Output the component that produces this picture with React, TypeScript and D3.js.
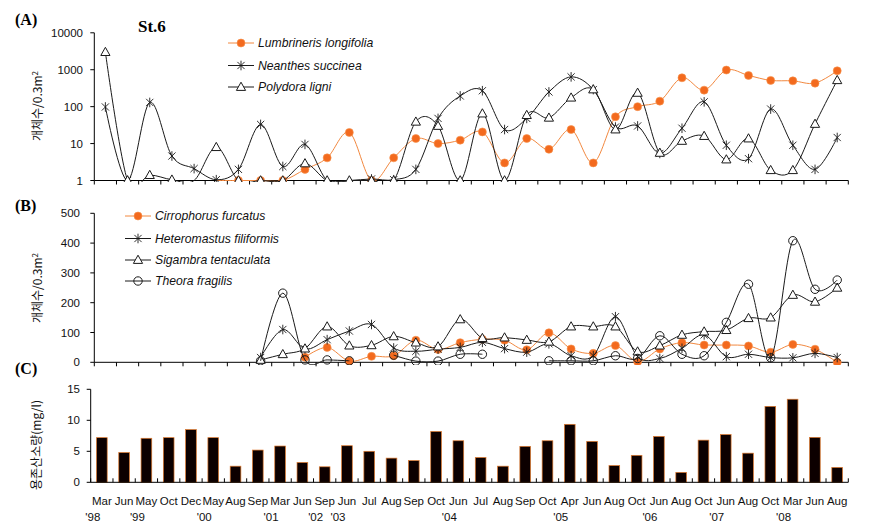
import React from "react";
import * as d3 from "d3";

// ---------- data ----------
const months = ["Mar","Jun","May","Oct","Dec","May","Aug","Sep","Mar","Jun","Sep","Jun","Jul","Aug","Sep","Oct","Jun","Jul","Aug","Sep","Oct","Apr","Jun","Aug","Oct","Jun","Aug","Oct","Jun","Aug","Oct","Mar","Jun","Aug"];
const years = ["'98","","'99","","","'00","","","'01","","'02","'03","","","","","'04","","","","","'05","","","","'06","","","'07","","","'08","",""];

// Panel A (log scale, 0 = plotted on the base line without marker, null = absent)
const lumbrineris = [null,null,null,null,null,0,1,1,1,2,4.1,20,1,4.1,13.7,10,12.4,20.7,3,13.7,7,24,3,53,100,141,605,280,980,700,514,500,433,935];
const neanthes = [98,1,130,4.6,2.1,1.05,2,33,2.4,9.5,0,0,1.1,1.05,2,48,195,270,24,48,250,640,290,28,30,5.4,26,135,9,3.9,86,9,2,14.6];
const polydora = [3000,1,1.4,1.05,0,8,1,1,1,2.9,1,1,1,1,39,30,1,65,1,59,50,175,292,24,236,5.6,11.8,16,3.7,13.7,1.9,1.9,34,520];
const aTicks = [1,10,100,1000,10000];

// Panel B
const cirrophorus = [null,null,null,null,null,null,null,null,null,17,50,4,20,22,74,43,66,77,74,42,99,45,30,56,2,45,66,58,58,55,34,60,44,0];
const heteromastus = [null,null,null,null,null,null,null,16,110,45,76,105,127,48,37,44,50,67,46,34,62,22,22,153,19,13,47,92,19,27,16,15,30,16];
const sigambra = [null,null,null,null,null,null,null,8,27,46,120,56,57,87,66,53,144,81,83,75,69,120,120,120,36,56,92,103,108,148,150,226,203,250];
const theora = [null,null,null,null,null,null,null,5,232,8,8,5,null,24,4,4,27,27,null,null,5,5,5,22,13,89,27,22,134,262,15,408,245,276];
const bTicks = [0,100,200,300,400,500];

// Panel C
const dissolvedO2 = [7.2,4.8,7.1,7.2,8.5,7.2,2.6,5.2,5.85,3.2,2.5,5.9,5.0,3.9,3.5,8.2,6.7,4.0,2.6,5.8,6.7,9.35,6.6,2.7,4.35,7.4,1.6,6.8,7.7,4.7,12.25,13.4,7.25,2.4];
const cTicks = [0,5,10,15];

const seriesA = [
  { name: "Lumbrineris longifolia", values: lumbrineris, marker: "dot" },
  { name: "Neanthes succinea", values: neanthes, marker: "star" },
  { name: "Polydora ligni", values: polydora, marker: "tri" },
];
const seriesB = [
  { name: "Cirrophorus furcatus", values: cirrophorus, marker: "dot" },
  { name: "Heteromastus filiformis", values: heteromastus, marker: "star" },
  { name: "Sigambra tentaculata", values: sigambra, marker: "tri" },
  { name: "Theora fragilis", values: theora, marker: "circ" },
];

// ---------- styles ----------
const ORANGE = "#f36a1e";
const ORANGE_LINE = "#f2883f";
const DARK = "#1a1a1a";
const SANS = "'Liberation Sans', Arial, sans-serif";
const SERIF = "'Liberation Serif', 'Times New Roman', serif";
const KR = "'Noto Sans CJK KR', sans-serif";

function Marker({ type, x, y }: { type: string; x: number; y: number }) {
  if (type === "dot") return <circle cx={x} cy={y} r={4} fill={ORANGE} stroke="#f7934f" strokeWidth={0.6} />;
  if (type === "circ") return <circle cx={x} cy={y} r={4.2} fill="none" stroke={DARK} strokeWidth={1} />;
  if (type === "tri")
    return <path d={`M${x},${y - 4.8}L${x + 4.6},${y + 3.4}L${x - 4.6},${y + 3.4}Z`} fill="#fff" stroke={DARK} strokeWidth={1} />;
  return (
    <path
      d={`M${x},${y - 4.8}V${y + 4.8}M${x - 3.6},${y - 3.6}L${x + 3.6},${y + 3.6}M${x + 3.6},${y - 3.6}L${x - 3.6},${y + 3.6}`}
      stroke={DARK}
      strokeWidth={0.9}
      fill="none"
    />
  );
}

export default function App() {
  const idx = d3.range(months.length);
  const xAB = d3.scaleBand<number>().domain(idx).range([94.3, 848.3]);
  const xC = d3.scaleBand<number>().domain(idx).range([90.7, 848.3]).paddingInner(0.52).paddingOuter(0.26);
  const cx = (i: number) => (xAB(i) as number) + xAB.bandwidth() / 2;
  const cxC = (i: number) => (xC(i) as number) + xC.bandwidth() / 2;

  const yA = d3.scaleLog().domain([1, 10000]).range([180.5, 32.8]);
  const yB = d3.scaleLinear().domain([0, 500]).range([362.3, 213.3]);
  const yC = d3.scaleLinear().domain([0, 15]).range([482.3, 389.3]);

  const curve = d3.curveCardinal.tension(0);
  const lineA = d3
    .line<[number, number | null]>()
    .defined((d) => d[1] != null)
    .x((d) => cx(d[0]))
    .y((d) => yA(Math.max(d[1] as number, 1)))
    .curve(curve);
  const lineB = d3
    .line<[number, number | null]>()
    .defined((d) => d[1] != null)
    .x((d) => cx(d[0]))
    .y((d) => yB(d[1] as number))
    .curve(curve);

  const boundariesAB = d3.range(months.length + 1).map((k) => 94.3 + k * xAB.step());
  const boundariesC = d3.range(months.length + 1).map((k) => 90.7 + k * xC.step());

  const xAxis = (y: number, xs: number[], dir: number, x0: number, x1: number) => (
    <g>
      <line x1={x0} x2={x1} y1={y} y2={y} stroke="#000" strokeWidth={1} />
      {xs.map((x, k) => (
        <line key={k} x1={x} x2={x} y1={y} y2={y + dir * 4} stroke="#000" strokeWidth={1} />
      ))}
    </g>
  );

  const yAxis = (x: number, scale: any, ticks: number[], labelX: number) => (
    <g>
      <line x1={x} x2={x} y1={scale(ticks[0])} y2={scale(ticks[ticks.length - 1])} stroke="#000" strokeWidth={1} />
      {ticks.map((t) => (
        <g key={t}>
          <line x1={x - 4} x2={x} y1={scale(t)} y2={scale(t)} stroke="#000" strokeWidth={1} />
          <text x={labelX} y={scale(t)} dy="0.36em" textAnchor="end" fontFamily={SANS} fontSize={11.5} fill="#111">
            {t}
          </text>
        </g>
      ))}
    </g>
  );

  const yAlog = (v: number) => yA(Math.max(v, 1));
  const drawSeries = (series: any[], line: any, ys: (v: number) => number, isLog: boolean) =>
    series.map((s) => {
      const pts: [number, number | null][] = s.values.map((v: number | null, i: number) => [i, v]);
      const isOrange = s.marker === "dot";
      return (
        <g key={s.name}>
          <path d={line(pts) || ""} fill="none" stroke={isOrange ? ORANGE_LINE : DARK} strokeWidth={1} />
          {pts
            .filter((p) => p[1] != null && !(isLog && (p[1] as number) <= 0))
            .map((p) => (
              <Marker key={p[0]} type={s.marker} x={cx(p[0])} y={ys(p[1] as number)} />
            ))}
        </g>
      );
    });

  const legend = (series: any[], x0: number, ys: number[]) =>
    series.map((s, k) => (
      <g key={s.name}>
        <line x1={x0} x2={x0 + 26} y1={ys[k]} y2={ys[k]} stroke={s.marker === "dot" ? ORANGE_LINE : DARK} strokeWidth={1} />
        <Marker type={s.marker} x={x0 + 13} y={ys[k]} />
        <text x={x0 + 30} y={ys[k]} dy="0.36em" fontFamily={SANS} fontStyle="italic" fontSize={12.2} fill="#111">
          {s.name}
        </text>
      </g>
    ));

  return (
    <svg width={869} height={530} style={{ position: "absolute", left: 0, top: 0, background: "#fff" }}>
      <defs>
        <clipPath id="clipA">
          <rect x={90} y={28} width={765} height={154} />
        </clipPath>
        <clipPath id="clipB">
          <rect x={90} y={205} width={765} height={160} />
        </clipPath>
      </defs>
      <rect width={869} height={530} fill="#fff" />

      {/* panel labels */}
      <text x={15} y={25} fontFamily={SERIF} fontWeight="bold" fontSize={16}>(A)</text>
      <text x={138} y={32} fontFamily={SERIF} fontWeight="bold" fontSize={17}>St.6</text>
      <text x={15} y={211} fontFamily={SERIF} fontWeight="bold" fontSize={16}>(B)</text>
      <text x={15} y={374} fontFamily={SERIF} fontWeight="bold" fontSize={16}>(C)</text>

      {/* y titles */}
      <text transform="translate(42,106) rotate(-90)" textAnchor="middle" fontFamily={KR} fontSize={12} fill="#111">
        개체수/0.3m<tspan dy="-4" fontSize={8}>2</tspan>
      </text>
      <text transform="translate(42,288) rotate(-90)" textAnchor="middle" fontFamily={KR} fontSize={12} fill="#111">
        개체수/0.3m<tspan dy="-4" fontSize={8}>2</tspan>
      </text>
      <text transform="translate(41,445) rotate(-90)" textAnchor="middle" fontFamily={KR} fontSize={12} fill="#111">
        용존산소량(mg/l)
      </text>

      {/* Panel A */}
      {yAxis(94.3, yA, aTicks, 83)}
      {xAxis(180.5, boundariesAB, 1, 94.3, 848.3)}
      <g clipPath="url(#clipA)">{drawSeries(seriesA, lineA, yAlog, true)}</g>
      {legend(seriesA, 228, [43, 65.5, 87])}

      {/* Panel B */}
      {yAxis(94.3, yB, bTicks, 80)}
      {xAxis(362.3, boundariesAB, 1, 94.3, 848.3)}
      <g clipPath="url(#clipB)">{drawSeries(seriesB, lineB, (v: number) => yB(v), false)}</g>
      {legend(seriesB, 125, [216, 238.5, 260, 281])}

      {/* Panel C */}
      {dissolvedO2.map((v, i) => (
        <rect
          key={i}
          x={xC(i)}
          y={yC(v)}
          width={xC.bandwidth()}
          height={yC(0) - yC(v)}
          fill="#0c0000"
          stroke="#e0782c"
          strokeWidth={0.7}
        />
      ))}
      {yAxis(90.7, yC, cTicks, 80)}
      {xAxis(482.3, boundariesC, -1, 90.7, 848.3)}
      {months.map((m, i) => (
        <text key={i} x={cxC(i)} y={505} textAnchor="middle" fontFamily={SANS} fontSize={11.5} fill="#111">
          {m}
        </text>
      ))}
      {years.map((t, i) =>
        t ? (
          <text key={i} x={cxC(i) - 9} y={520.5} textAnchor="middle" fontFamily={SANS} fontSize={11.5} fill="#111">
            {t}
          </text>
        ) : null
      )}
    </svg>
  );
}
